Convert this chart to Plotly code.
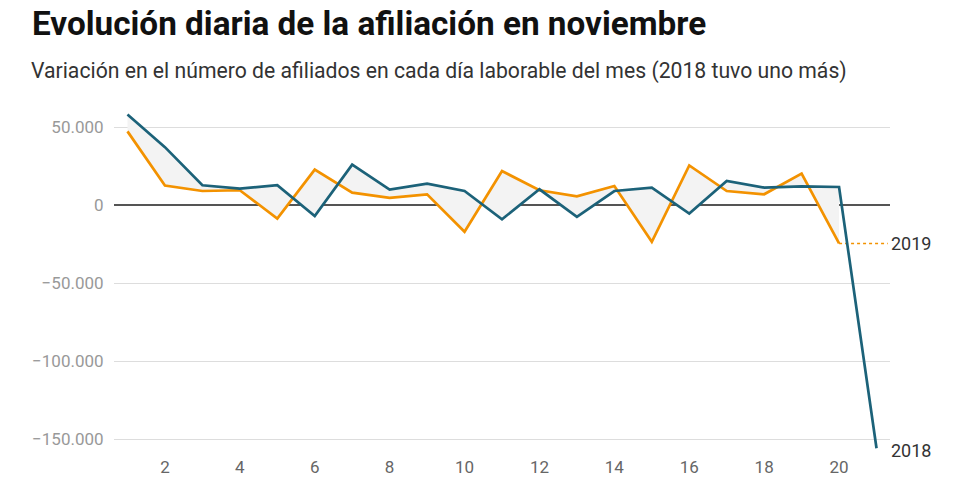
import plotly.graph_objects as go

dias = list(range(1, 22))
afil_2018 = [58100, 37200, 12800, 10600, 12800, -7000, 26000, 10000, 13800, 9100,
             -9000, 10200, -7500, 9100, 11300, -5300, 15500, 11300, 12100, 11700, -155700]
afil_2019 = [47300, 12600, 9100, 9600, -8500, 22800, 8100, 4700, 7000, -17000,
             21900, 9600, 5700, 12300, -23400, 25500, 9100, 7000, 20200, -24500]

y_ticks = [50000, 0, -50000, -100000, -150000]
y_labels = ["50.000", "0", "\u221250.000", "\u2212100.000", "\u2212150.000"]
x_ticks = [2, 4, 6, 8, 10, 12, 14, 16, 18, 20]

naranja = "#f39200"
azul = "#1c6279"

n = len(afil_2019)

# la pagina tiene 8px de margen en el body, se compensa aqui
W, H = 972, 486
L, R, T, B = 106, 90, 102, 39
plot_w = W - L - R
plot_h = H - T - B

fig = go.Figure()

# relleno gris entre las dos series (dias comunes)
fig.add_trace(go.Scatter(x=dias[:n], y=afil_2019, mode="lines",
                         line=dict(width=0), hoverinfo="skip", showlegend=False))
fig.add_trace(go.Scatter(x=dias[:n], y=afil_2018[:n], mode="lines",
                         line=dict(width=0), fill="tonexty", fillcolor="#f3f3f3",
                         hoverinfo="skip", showlegend=False))

# linea de puntos hasta la etiqueta 2019
fig.add_trace(go.Scatter(x=[dias[n - 1], 21.3], y=[afil_2019[-1], afil_2019[-1]],
                         mode="lines", line=dict(color=naranja, width=1.6, dash="3px,3px"),
                         hoverinfo="skip", showlegend=False))

fig.add_trace(go.Scatter(x=dias[:n], y=afil_2019, mode="lines", name="2019",
                         line=dict(color=naranja, width=2.7), showlegend=False))
fig.add_trace(go.Scatter(x=dias, y=afil_2018, mode="lines", name="2018",
                         line=dict(color=azul, width=2.7), showlegend=False))

fig.add_annotation(x=21.36, y=afil_2019[-1], text="2019", showarrow=False,
                   xanchor="left", yanchor="middle", xshift=-1,
                   font=dict(size=18, color="#333333"))
fig.add_annotation(x=21.36, y=afil_2018[-1], text="2018", showarrow=False,
                   xanchor="left", yanchor="middle", xshift=-1, yshift=-2,
                   font=dict(size=18, color="#333333"))

fig.add_annotation(text="Variación en el número de afiliados en cada día laborable del mes (2018 tuvo uno más)",
                   xref="paper", yref="paper", x=(24 - L) / plot_w, y=1 + 39 / plot_h,
                   xanchor="left", yanchor="middle", showarrow=False, xshift=-3,
                   font=dict(size=21.2, color="#333333"))

fig.update_layout(
    width=W, height=H,
    margin=dict(l=L, r=R, t=T, b=B),
    paper_bgcolor="white", plot_bgcolor="white",
    font=dict(family="Roboto", color="#888888", size=15),
    title=dict(text="<b>Evolución diaria de la afiliación en noviembre</b>",
               x=24 / W, xref="container", xanchor="left",
               y=1 - 4 / H, yref="container", yanchor="top",
               font=dict(size=33.3, color="#111111", family="Roboto")),
    showlegend=False,
)

fig.update_xaxes(range=[0.64, 21.36], tickvals=x_ticks, showgrid=False,
                 zeroline=False, showline=False, automargin=False,
                 ticks="", tickfont=dict(size=17, color="#666666"))
fig.update_yaxes(range=[-160000, 61000], tickvals=y_ticks, ticktext=y_labels,
                 showgrid=True, gridcolor="#dddddd", gridwidth=1,
                 zeroline=True, zerolinecolor="#555555", zerolinewidth=1.5,
                 automargin=False,
                 ticks="outside", ticklen=6, tickcolor="rgba(0,0,0,0)",
                 tickfont=dict(size=17, color="#999999"))

fig.write_html("out.html")
